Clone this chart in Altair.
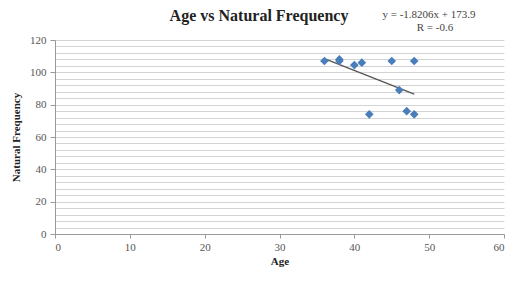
import altair as alt
import pandas as pd

ages = [36, 38, 38, 40, 41, 42, 45, 46, 47, 48, 48]
freqs = [107, 108, 107, 104.5, 106, 74, 107, 89, 76, 107, 74]
x_ticks = [0, 10, 20, 30, 40, 50, 60]
y_grid = list(range(0, 121, 4))
title_text = ["Age vs Natural Frequency"]
eq_lines = ["y = -1.8206x + 173.9", "R = -0.6"]

df = pd.DataFrame({"Age": ages, "Freq": freqs})
FONT = "Liberation Serif"

xscale = alt.Scale(domain=[0, 60], nice=False)
yscale = alt.Scale(domain=[0, 120], nice=False)

xaxis = alt.Axis(values=x_ticks, tickCount=20, title="Age", grid=False, tickSize=4, tickColor="#999",
                 domainColor="#999", labelFont=FONT, labelFontSize=11, labelColor="#555",
                 labelPadding=3, titleFont=FONT, titleFontSize=11, titleFontWeight="bold",
                 titleColor="#222", titlePadding=3)
yaxis = alt.Axis(values=y_grid, tickCount=100, title="Natural Frequency", grid=True, gridColor="#d4d4d4",
                 gridWidth=1, tickSize=5, labelOverlap=False,
                 tickColor={"condition": {"test": "datum.value % 20 === 0", "value": "#999"},
                            "value": "transparent"},
                 labelExpr="datum.value % 20 === 0 ? datum.label : ''",
                 domainColor="#999", labelFont=FONT, labelFontSize=11, labelColor="#555",
                 labelPadding=4, titleFont=FONT, titleFontSize=11, titleFontWeight="bold",
                 titleColor="#222", titlePadding=8)

base = alt.Chart(df)
points = base.mark_point(shape="diamond", filled=True, size=75, color="#4a7ebb", opacity=1).encode(
    x=alt.X("Age:Q", scale=xscale, axis=xaxis),
    y=alt.Y("Freq:Q", scale=yscale, axis=yaxis),
)
trend = base.transform_regression("Age", "Freq", extent=[36, 48]).mark_line(
    color="#555", strokeWidth=1.3).encode(x="Age:Q", y="Freq:Q")

title = alt.Chart(pd.DataFrame({"t": title_text})).mark_text(
    font=FONT, fontSize=16, fontWeight="bold", color="#222", align="center", baseline="middle"
).encode(text="t:N", x=alt.value(204), y=alt.value(-24))

eq1 = alt.Chart(pd.DataFrame({"t": [eq_lines[0]]})).mark_text(
    font=FONT, fontSize=11, color="#444", align="center", baseline="middle"
).encode(text="t:N", x=alt.value(374), y=alt.value(-25))
eq2 = alt.Chart(pd.DataFrame({"t": [eq_lines[1]]})).mark_text(
    font=FONT, fontSize=11, color="#444", align="center", baseline="middle"
).encode(text="t:N", x=alt.value(380), y=alt.value(-12))

chart = alt.layer(trend, points, title, eq1, eq2).properties(
    width=449, height=194,
    autosize=alt.AutoSizeParams(type="none"),
    padding={"left": 47, "top": 32, "right": 2, "bottom": 36},
).configure_view(stroke="transparent")

chart.save("out.html", embed_options={"renderer": "svg", "actions": False})
